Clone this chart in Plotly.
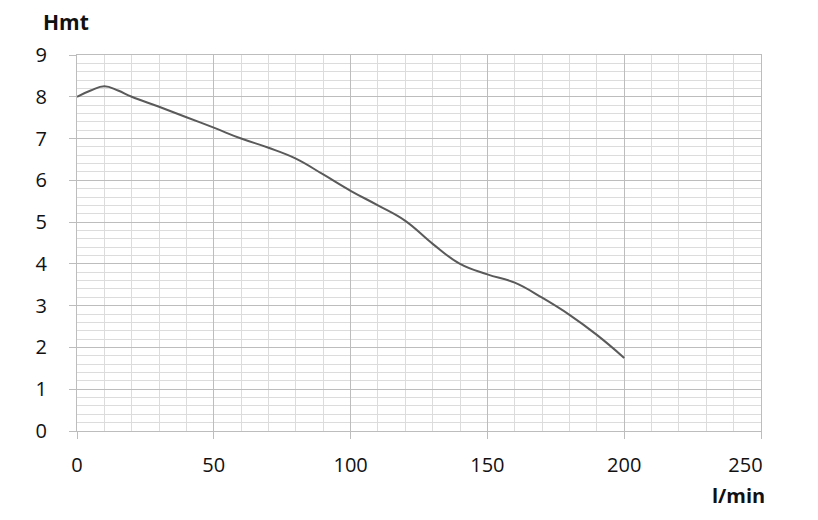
import plotly.graph_objects as go

flow_lpm = [0, 5, 10, 15, 20, 30, 40, 50, 60, 70, 80, 90, 100, 110, 120,
            130, 140, 150, 160, 170, 180, 190, 200]
head_m = [8.0, 8.15, 8.25, 8.15, 8.0, 7.76, 7.51, 7.26, 7.0, 6.78, 6.52,
          6.14, 5.75, 5.4, 5.03, 4.48, 4.0, 3.75, 3.55, 3.19, 2.78, 2.3, 1.75]

x_tickvals = [0, 50, 100, 150, 200, 250]
x_ticktext = ["0", "50", "100", "150", "200", "250" + "\u00a0" * 6]
y_tickvals = [0, 1, 2, 3, 4, 5, 6, 7, 8, 9]

x_title = "l/min"
y_title = "Hmt"

FONT = "Open Sans, Noto Sans, sans-serif"

fig = go.Figure()
fig.add_trace(go.Scatter(
    x=flow_lpm, y=head_m, mode="lines",
    line=dict(color="#5a5a5a", width=2, shape="spline", smoothing=1.2),
    hoverinfo="skip", showlegend=False,
))

fig.update_layout(
    width=818, height=520,
    margin=dict(l=69, r=65, t=47, b=97),
    paper_bgcolor="white", plot_bgcolor="white",
    font=dict(family=FONT, size=20, color="#111"),
    xaxis=dict(
        range=[0, 250], tickmode="array", tickvals=x_tickvals, ticktext=x_ticktext,
        automargin=False,
        showgrid=True, gridcolor="#bdbdbd", gridwidth=1,
        minor=dict(tick0=0, dtick=10, showgrid=True, gridcolor="#dcdcdc", gridwidth=1, ticks=""),
        ticks="outside", ticklen=7, tickcolor="#bdbdbd", tickwidth=1,
        ticklabelstandoff=9,
        showline=True, linecolor="#bdbdbd", linewidth=1, mirror=True,
        zeroline=False, fixedrange=True,
    ),
    yaxis=dict(
        range=[0, 9], tickmode="array", tickvals=y_tickvals, automargin=False,
        showgrid=True, gridcolor="#bdbdbd", gridwidth=1,
        minor=dict(tick0=0, dtick=0.2, showgrid=True, gridcolor="#dcdcdc", gridwidth=1, ticks=""),
        ticks="outside", ticklen=7, tickcolor="#bdbdbd", tickwidth=1,
        ticklabelstandoff=18,
        showline=True, linecolor="#bdbdbd", linewidth=1, mirror=True,
        zeroline=False, fixedrange=True,
    ),
    annotations=[
        dict(text=f"<b>{y_title}</b>", xref="paper", yref="paper",
             x=-0.052, y=1.0, yshift=33, xanchor="left", yanchor="middle",
             showarrow=False, font=dict(family=FONT, size=21, color="#111")),
        dict(text=f"<b>{x_title}</b>", xref="paper", yref="paper",
             x=1.0, y=0.0, xshift=6, yshift=-64, xanchor="right", yanchor="middle",
             showarrow=False, font=dict(family=FONT, size=20, color="#111")),
    ],
)

fig.write_html("out.html")
